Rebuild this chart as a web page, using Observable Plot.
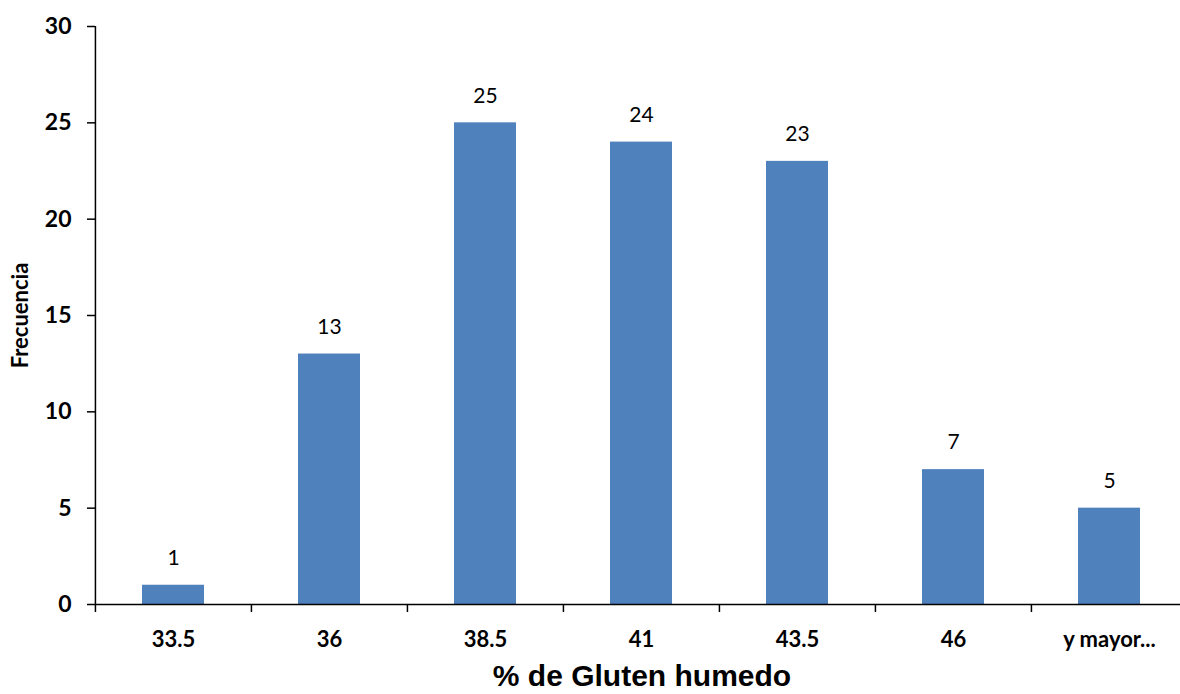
<!DOCTYPE html>
<html>
<head>
<meta charset="utf-8">
<script src="https://cdn.jsdelivr.net/npm/d3@7"></script>
<script src="https://cdn.jsdelivr.net/npm/@observablehq/plot@0.6"></script>
<style>
  html, body { margin: 0; padding: 0; background: #fff; }
  #chart svg { display: block; }
</style>
</head>
<body>
<div id="chart"></div>
<script>
// Histogram bins (class marks) and frequencies
const bins = ["33.5", "36", "38.5", "41", "43.5", "46", "y mayor..."];
const frecuencias = [1, 13, 25, 24, 23, 7, 5];
const yTicks = [0, 5, 10, 15, 20, 25, 30];
const xTitle = "% de Gluten humedo";
const yTitle = "Frecuencia";

const rows = bins.map((b, i) => ({bin: b, f: frecuencias[i]}));

const W = 1180, H = 694;
const mL = 95, mR = -8, mT = 26, mB = 90;
const step = (W - mL - mR) / bins.length;

const chart = Plot.plot({
  width: W,
  height: H,
  marginLeft: mL,
  marginRight: mR,
  marginTop: mT,
  marginBottom: mB,
  style: {fontFamily: "Lato, 'Open Sans', sans-serif", color: "#000", background: "#fff"},
  x: {domain: bins, paddingInner: 0.6, paddingOuter: 0.3},
  y: {domain: [0, 30]},
  marks: [
    Plot.barY(rows, {x: "bin", y: "f", fill: "#4f81bd"}),
    Plot.text(rows, {x: "bin", y: "f", text: d => String(d.f), dy: -27, fontSize: 21, fill: "#000"}),
    // category boundary ticks below the baseline
    Plot.axisX({tickSize: 8, tickFormat: () => "", dx: -step / 2, stroke: "#000", strokeWidth: 1.5, label: null}),
    // category labels
    Plot.axisX({tickSize: 0, tickPadding: 27, fontSize: 22, fontWeight: "bold", label: null}),
    Plot.axisY({ticks: yTicks, tickSize: 8, tickPadding: 16, fontSize: 23, fontWeight: "bold", label: null, strokeWidth: 1.5}),
    // vertical axis line
    Plot.ruleX([bins[0]], {y1: 0, y2: 30, dx: -step / 2, stroke: "#000", strokeWidth: 1.5}),
    // baseline
    Plot.ruleY([0], {stroke: "#000", strokeWidth: 1.5}),
    Plot.text([xTitle], {frameAnchor: "bottom", dy: 81, fontSize: 30, fontWeight: "bold", fontFamily: "'Liberation Sans', Arial, sans-serif"}),
    Plot.text([yTitle], {frameAnchor: "left", textAnchor: "middle", dx: -75, rotate: -90, fontSize: 22, fontWeight: "bold"})
  ]
});

document.getElementById("chart").appendChild(chart);
</script>
</body>
</html>
